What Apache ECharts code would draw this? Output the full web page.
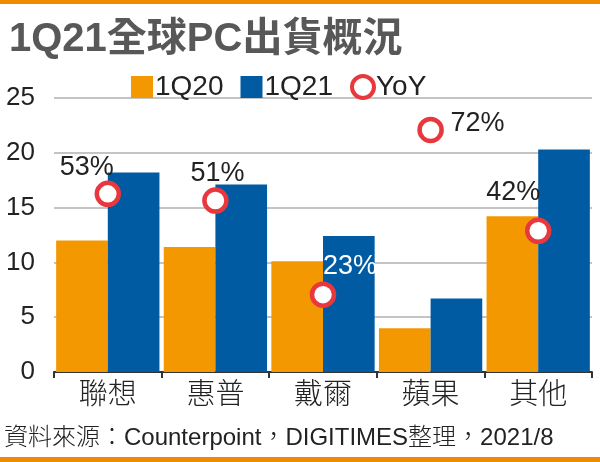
<!DOCTYPE html>
<html>
<head>
<meta charset="utf-8">
<script src="https://cdn.jsdelivr.net/npm/echarts@6/dist/echarts.min.js"></script>
<style>
  html, body { margin: 0; padding: 0; background: #fff; }
  #chart { width: 600px; height: 462px; }
</style>
</head>
<body>
<div id="chart"></div>
<script>
// 資料
let categories = ['聯想', '惠普', '戴爾', '蘋果', '其他'];
let q120 = [12.0, 11.4, 10.1, 4.0, 14.2];
let q121 = [18.2, 17.1, 12.4, 6.7, 20.3];
let yoy = [53, 51, 23, 72, 42];
let yTicks = [0, 5, 10, 15, 20, 25];

// 標籤位置 (相對圓心)
let labelOffsets = [[-21, -26], [2, -27], [27, -28], [47, -6], [-25, -38]];
let labelColors = ['#222', '#222', '#fff', '#222', '#222'];

let font = '"Liberation Sans", "Noto Sans CJK TC", sans-serif';

let myChart = echarts.init(document.getElementById('chart'));
let option = {
    animation: false,
    title: {
        text: '1Q21全球PC出貨概況',
        left: 4,
        top: 15,
        textStyle: { fontSize: 40, fontWeight: 'bold', color: '#585858', fontFamily: font }
    },
    legend: {
        left: 126,
        top: 68,
        itemWidth: 22,
        itemHeight: 22,
        itemGap: 17,
        textStyle: { fontSize: 28, color: '#222', fontFamily: font, fontWeight: 300, padding: [0, 0, 0, -3] },
        data: [
            { name: '1Q20', icon: 'rect' },
            { name: '1Q21', icon: 'rect' },
            { name: 'YoY', icon: 'circle', itemStyle: { color: '#fff', borderColor: '#E8383D', borderWidth: 4 } }
        ]
    },
    grid: { left: 54, right: 8, top: 98, bottom: 90 },
    xAxis: {
        type: 'category',
        data: categories,
        axisLine: { lineStyle: { color: '#333', width: 2 } },
        axisTick: { show: true, length: 6, lineStyle: { color: '#333', width: 2 } },
        axisLabel: { fontSize: 29, color: '#222', margin: 9, fontFamily: font, fontWeight: 300 }
    },
    yAxis: [
        {
            type: 'value',
            min: yTicks[0],
            max: yTicks[yTicks.length - 1],
            interval: 5,
            axisLine: { show: false },
            axisTick: { show: false },
            axisLabel: { fontSize: 26, color: '#222', margin: 19, fontFamily: font, fontWeight: 300 },
            splitLine: { lineStyle: { color: '#c4c4c4', width: 2 } }
        },
        {
            type: 'value',
            min: 0,
            max: 81.5,
            show: false
        }
    ],
    series: [
        {
            name: '1Q20',
            type: 'bar',
            data: q120,
            barGap: 0,
            barCategoryGap: '4%',
            itemStyle: { color: '#F39800' }
        },
        {
            name: '1Q21',
            type: 'bar',
            data: q121,
            itemStyle: { color: '#005BA3' }
        },
        {
            name: 'YoY',
            type: 'scatter',
            yAxisIndex: 1,
            symbolSize: 22,
            z: 5,
            itemStyle: { color: '#fff', borderColor: '#E8383D', borderWidth: 4.5, opacity: 1 },
            data: yoy.map(function (v, i) {
                return {
                    value: v,
                    label: {
                        show: true,
                        position: 'inside',
                        offset: labelOffsets[i],
                        formatter: '{c}%',
                        fontSize: 27,
                        color: labelColors[i],
                        fontFamily: font,
                        fontWeight: 300
                    }
                };
            })
        }
    ],
    graphic: [
        { type: 'rect', left: 0, top: 0, shape: { width: 600, height: 4 }, style: { fill: '#F08A00' } },
        { type: 'rect', left: 0, top: 457, shape: { width: 600, height: 5 }, style: { fill: '#F08A00' } },
        {
            type: 'text', left: 4, top: 426,
            style: { text: '資料來源：Counterpoint，DIGITIMES整理，2021/8', fontSize: 24, fill: '#222', fontFamily: font, fontWeight: 300 }
        }
    ]
};
myChart.setOption(option);
</script>
</body>
</html>
